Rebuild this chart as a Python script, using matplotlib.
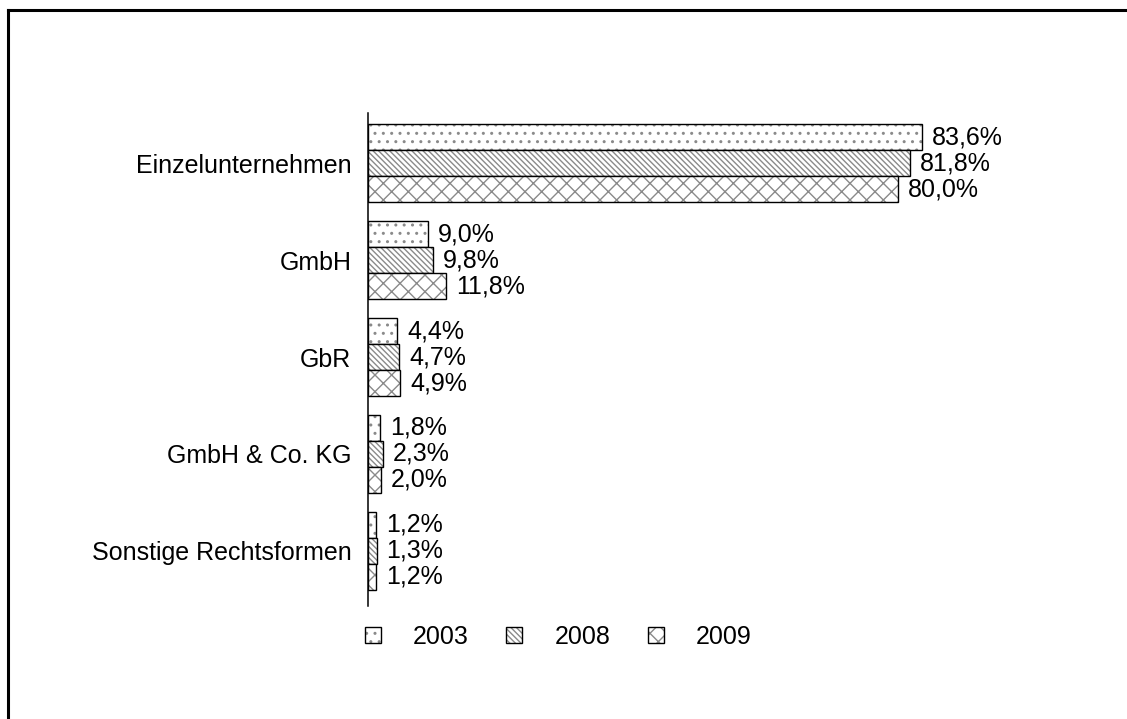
import matplotlib.pyplot as plt
import numpy as np
from matplotlib.lines import Line2D
from matplotlib.patches import Patch
from matplotlib.legend_handler import HandlerTuple

plt.rcParams['font.family'] = ['Liberation Sans', 'DejaVu Sans']
plt.rcParams['hatch.linewidth'] = 1.0

# Daten
kategorien = ["Einzelunternehmen", "GmbH", "GbR", "GmbH & Co. KG", "Sonstige Rechtsformen"]
jahre = ["2003", "2008", "2009"]
werte_2003 = [83.6, 9.0, 4.4, 1.8, 1.2]
werte_2008 = [81.8, 9.8, 4.7, 2.3, 1.3]
werte_2009 = [80.0, 11.8, 4.9, 2.0, 1.2]
serien = [werte_2003, werte_2008, werte_2009]
schraffur = ["..", "\\\\\\\\\\\\", "xx"]
grau = "#8a8a8a"

fig = plt.figure(figsize=(11.27, 7.19), dpi=100)
ax = fig.add_axes([368 / 1127, 1 - 606 / 719, 663 / 1127, 493 / 719])

y = np.arange(len(kategorien))
h = 0.268
handles = []
for i, (werte, jahr) in enumerate(zip(serien, jahre)):
    pos = y + (i - 1) * h
    ax.barh(pos, werte, height=h, color="white", edgecolor=grau, hatch=schraffur[i], linewidth=0)
    ax.barh(pos, werte, height=h, fill=False, edgecolor="black", linewidth=1)
    for p, v in zip(pos, werte):
        ax.annotate(f"{v:.1f}%".replace(".", ","), (v, p), xytext=(7, 0),
                    textcoords="offset points", va="center", ha="left", fontsize=18)
    handles.append((Patch(facecolor="white", edgecolor=grau, hatch=schraffur[i], linewidth=0),
                    Patch(fill=False, edgecolor="black", linewidth=1)))

ax.set_xlim(0, 100)
ax.set_ylim(4.57, -0.52)
ax.set_yticks(y)
ax.set_yticklabels(kategorien, fontsize=18)
ax.tick_params(axis="y", length=0, pad=12)
ax.set_xticks([])
for s in ["top", "right", "bottom"]:
    ax.spines[s].set_visible(False)
ax.spines["left"].set_linewidth(1.1)

fig.legend(handles, jahre, handler_map={tuple: HandlerTuple(ndivide=1)},
           loc="center left", bbox_to_anchor=(365 / 1127, 1 - 637 / 719),
           ncol=3, frameon=False, fontsize=18, borderpad=0, borderaxespad=0,
           handlelength=0.64, handleheight=0.64, handletextpad=1.28, columnspacing=1.5)

# Rahmen
fig.add_artist(Line2D([7.5 / 1127, 1], [1 - 9.5 / 719, 1 - 9.5 / 719], color="black", linewidth=2.2))
fig.add_artist(Line2D([7.5 / 1127, 7.5 / 1127], [0, 1 - 9.5 / 719], color="black", linewidth=2.2))

fig.savefig("out.png", dpi=100)
